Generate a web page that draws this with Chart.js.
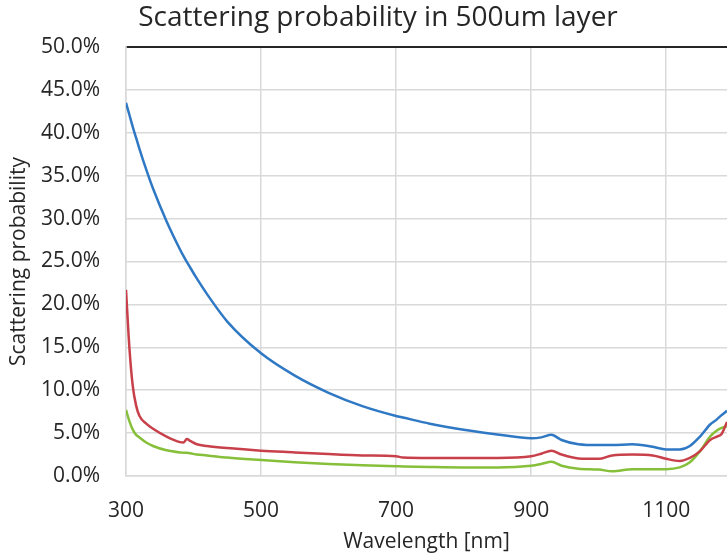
<!DOCTYPE html>
<html>
<head>
<meta charset="utf-8">
<script src="https://cdn.jsdelivr.net/npm/chart.js@4.4.1/dist/chart.umd.min.js"></script>
<style>
  html, body { margin: 0; padding: 0; background: #fff; overflow: hidden; }
  #wrap { width: 727px; height: 559px; position: relative; }
</style>
</head>
<body>
<div id="wrap"><canvas id="chart"></canvas></div>
<script>
// data (percent)
const wavelengths = [300, 305, 310, 315, 320, 330, 340, 360, 380, 385,
  390, 395, 405, 420, 450, 500, 550, 600, 650, 700,
  710, 750, 800, 850, 900, 915, 930, 945, 970, 1000,
  1020, 1050, 1080, 1100, 1120, 1135, 1150, 1165, 1175, 1182, 1190];

const blueValues = [43.5, 42.1, 40.7, 39.4, 38.1, 35.7, 33.5, 29.7, 26.4, 25.65,
  24.95, 24.3, 23.0, 21.2, 18.0, 14.3, 11.7, 9.7, 8.15, 7.0,
  6.82, 6.1, 5.4, 4.85, 4.4, 4.5, 4.8, 4.2, 3.7, 3.6,
  3.6, 3.7, 3.4, 3.1, 3.1, 3.5, 4.6, 6.0, 6.6, 7.1, 7.6];

const redValues = [21.7, 15.0, 10.5, 8.2, 7.0, 6.1, 5.5, 4.6, 3.95, 3.9,
  4.3, 4.1, 3.7, 3.5, 3.25, 2.95, 2.75, 2.55, 2.4, 2.3,
  2.15, 2.1, 2.1, 2.1, 2.3, 2.6, 2.95, 2.5, 2.05, 2.0,
  2.4, 2.5, 2.4, 2.0, 1.75, 2.1, 2.9, 4.2, 4.6, 4.9, 6.3];

const greenValues = [7.7, 6.4, 5.4, 4.8, 4.5, 3.9, 3.5, 3.0, 2.75, 2.72,
  2.7, 2.65, 2.5, 2.4, 2.15, 1.86, 1.6, 1.4, 1.25, 1.15,
  1.12, 1.05, 1.0, 1.0, 1.2, 1.4, 1.65, 1.2, 0.85, 0.75,
  0.55, 0.8, 0.8, 0.8, 1.0, 1.6, 2.9, 4.6, 5.3, 5.6, 5.8];

const xTicks = [300, 500, 700, 900, 1100];
const titleText = "Scattering probability in 500um layer";

const FONT = "'Open Sans', 'Noto Sans', sans-serif";
const TEXT = "#262626";
const GRID = "#d9d9d9";

const toPoints = (vals) => vals.map((v, i) => ({ x: wavelengths[i], y: v }));

const lineSet = (vals, color) => ({
  data: toPoints(vals),
  borderColor: color,
  borderWidth: 2.5,
  pointRadius: 0,
  cubicInterpolationMode: "monotone",
  fill: false,
});

// chart title, placed like the cropped original
const titlePlugin = {
  id: "topTitle",
  afterDraw: (chart) => {
    const { ctx } = chart;
    ctx.save();
    ctx.font = `28px ${FONT}`;
    ctx.fillStyle = TEXT;
    ctx.textAlign = "center";
    ctx.textBaseline = "alphabetic";
    ctx.fillText(titleText, 378, 26);
    ctx.restore();
  },
};

const ctx = document.getElementById("chart").getContext("2d");
new Chart(ctx, {
  type: "line",
  data: {
    datasets: [
      lineSet(blueValues, "#2f78c4"),
      lineSet(redValues, "#c8404a"),
      lineSet(greenValues, "#86bf3a"),
    ],
  },
  options: {
    responsive: true,
    maintainAspectRatio: false,
    animation: false,
    layout: { padding: { top: 47, right: 0, bottom: 0, left: 0 } },
    plugins: { legend: { display: false }, tooltip: { enabled: false } },
    scales: {
      x: {
        type: "linear",
        min: 300,
        max: 1190,
        afterFit: (scale) => { scale.height = 83; },
        afterBuildTicks: (scale) => { scale.ticks = xTicks.map((v) => ({ value: v })); },
        grid: { color: GRID, lineWidth: 1.5, drawTicks: false },
        border: { color: GRID, width: 1.5 },
        ticks: {
          font: { family: FONT, size: 21 },
          color: TEXT,
          padding: 22,
          maxRotation: 0,
          callback: (v) => String(v),
        },
        title: {
          display: true,
          text: "Wavelength [nm]",
          font: { family: FONT, size: 21 },
          color: TEXT,
          padding: { top: 0, bottom: 4 },
        },
      },
      y: {
        min: 0,
        max: 50,
        afterFit: (scale) => { scale.width = 126; },
        grid: {
          color: (c) => (c.tick && c.tick.value === 50 ? "#262626" : GRID),
          lineWidth: (c) => (c.tick && c.tick.value === 50 ? 2 : 1.5),
          drawTicks: false,
        },
        border: { color: GRID, width: 1.5 },
        ticks: {
          stepSize: 5,
          font: { family: FONT, size: 21 },
          color: TEXT,
          padding: 26,
          callback: (v) => v.toFixed(1) + "%",
        },
        title: {
          display: true,
          text: "Scattering probability",
          font: { family: FONT, size: 21 },
          color: TEXT,
          padding: { top: 6, bottom: 0 },
        },
      },
    },
  },
  plugins: [titlePlugin],
});
</script>
</body>
</html>
